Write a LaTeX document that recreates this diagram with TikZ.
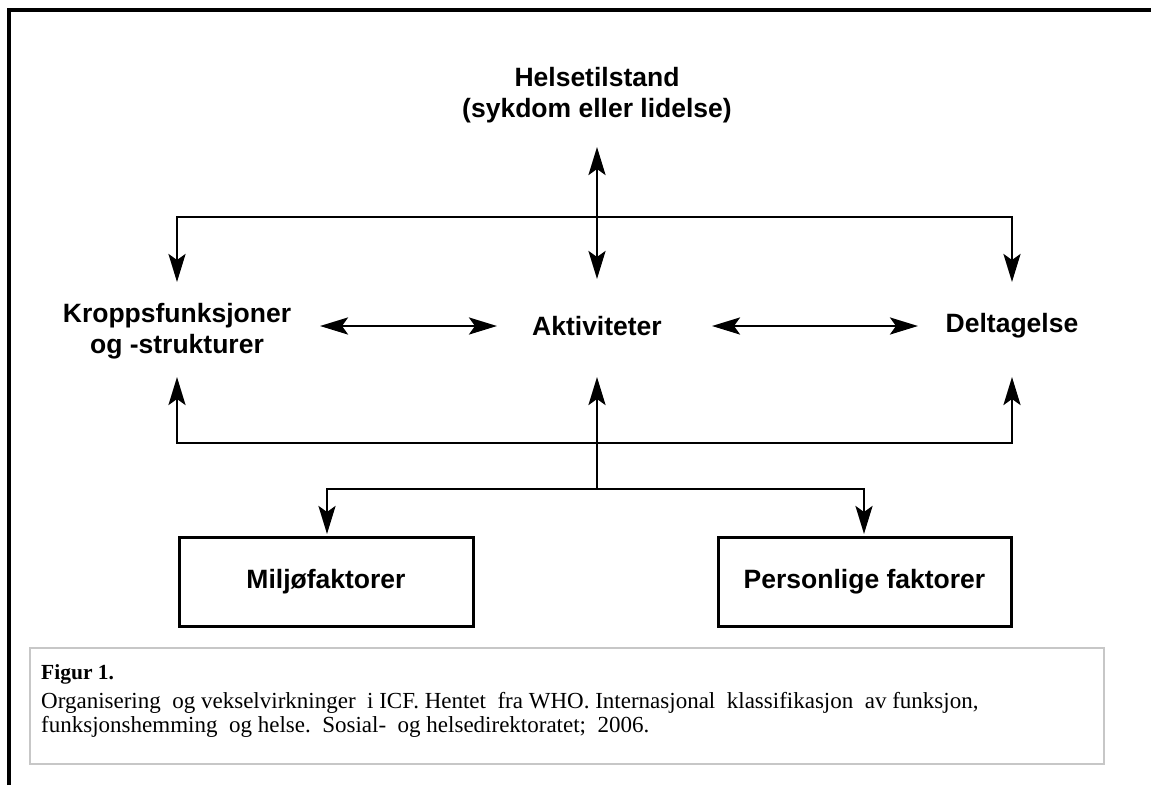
\documentclass[tikz,border=0pt]{standalone}
\usepackage{fontspec}
\setmainfont{Liberation Serif}
\newfontfamily\hv{Liberation Sans}
\usetikzlibrary{arrows.meta}
\begin{document}
\begin{tikzpicture}[x=1pt,y=-1pt,
  >={Stealth[length=28pt,width=17pt,inset=6pt]},
  conn/.style={line width=2.8pt,line join=miter},
  lbl/.style={font=\hv\bfseries\fontsize{26.5}{31.5}\selectfont,align=center,inner sep=0pt},
  facbox/.style={draw,line width=3pt,minimum height=89pt,inner sep=0pt,
    font=\hv\bfseries\fontsize{26.5}{31.5}\selectfont},
  captxt/.style={font=\fontsize{23}{25}\selectfont,inner sep=0pt,anchor=base west}]
\useasboundingbox (0,0) rectangle (1151,785);
% frame
\draw[line width=4pt,line join=miter] (9,785) -- (9,10) -- (1151,10);
% top
\node[lbl] (hel) at (597,95) {Helsetilstand\\(sykdom eller lidelse)};
\coordinate (ht) at (597,147);
\coordinate (jt) at (597,217);
\coordinate (kt) at (177,282);
\coordinate (at) at (597,279);
\coordinate (dt) at (1012,282);
\draw[conn,<->] (ht) -- (at);
\draw[conn,->] (jt) -| (kt);
\draw[conn,->] (jt) -| (dt);
% middle
\node[lbl] (kf) at (177,331) {Kroppsfunksjoner\\og -strukturer};
\node[lbl] (ak) at (597,326) {Aktiviteter};
\node[lbl] (dg) at (1012,326) {Deltagelse};
\coordinate (ka1) at (320,326);
\coordinate (ka2) at (497,326);
\coordinate (ad1) at (712,326);
\coordinate (ad2) at (918,326);
\draw[conn,<->] (ka1) -- (ka2);
\draw[conn,<->] (ad1) -- (ad2);
% bottom
\coordinate (ku) at (177,377);
\coordinate (au) at (597,377);
\coordinate (du) at (1012,377);
\coordinate (jb) at (597,443);
\coordinate (jm) at (597,489);
\draw[conn,->] (jb) -| (ku);
\draw[conn,->] (jb) -| (du);
\draw[conn,->] (jm) -- (au);
\node[facbox,minimum width=294pt] (mf) at (326,581.5) {Miljøfaktorer};
\node[facbox,minimum width=293pt] (pf) at (864.5,581.5) {Personlige faktorer};
\coordinate (mt) at (327,534);
\coordinate (pt) at (864,534);
\draw[conn,->] (jm) -| (mt);
\draw[conn,->] (jm) -| (pt);
% caption
\node[draw=black!22,line width=1.5pt,minimum width=1074pt,minimum height=116pt,
  anchor=north west,inner sep=0pt] (capbox) at (29,647) {};
\node[captxt,font=\bfseries\fontsize{21.5}{25}\selectfont] (figur) at (41,679) {Figur 1.};
\node[captxt] (cap1) at (41,708) {Organisering\ \ og vekselvirkninger\ \ i ICF. Hentet\ \ fra WHO. Internasjonal\ \ klassifikasjon\ \ av funksjon,};
\node[captxt] (cap2) at (41,732) {funksjonshemming\ \ og helse.\ \ Sosial-\ \ og helsedirektoratet;\ \ 2006.};
\end{tikzpicture}
\end{document}
